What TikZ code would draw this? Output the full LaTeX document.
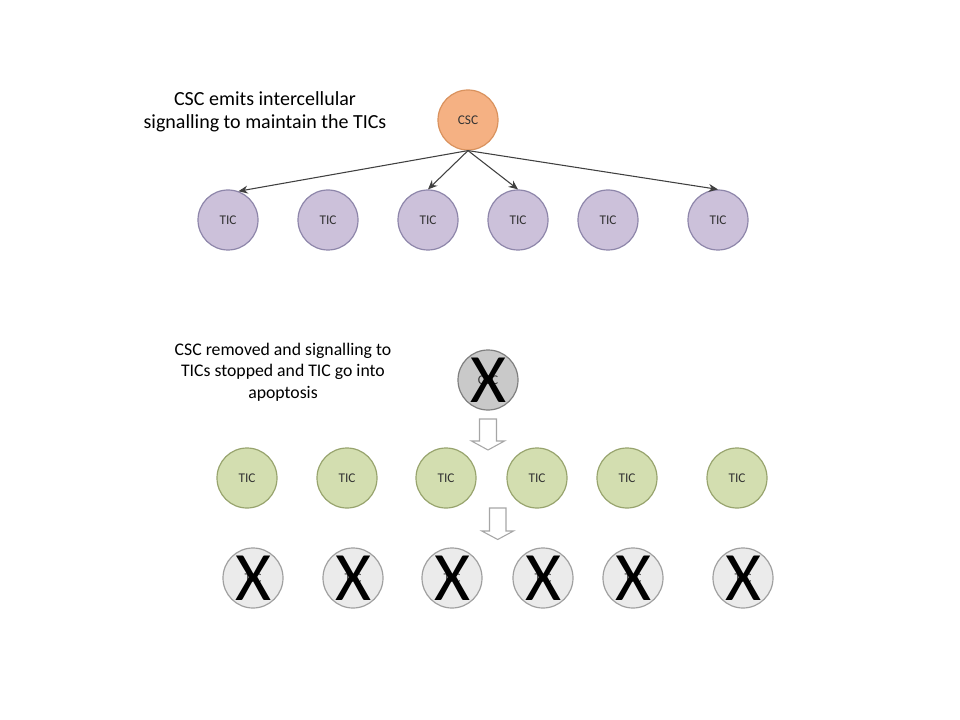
\documentclass[tikz,border=0pt]{standalone}
\usepackage{fontspec}
\setmainfont{Carlito}
\usetikzlibrary{arrows.meta}
\definecolor{orfill}{HTML}{F5B183}
\definecolor{ordraw}{HTML}{D9925E}
\definecolor{pufill}{HTML}{CCC1DA}
\definecolor{pudraw}{HTML}{8E86AA}
\definecolor{grfill}{HTML}{D3DEB0}
\definecolor{grdraw}{HTML}{98A46E}
\definecolor{gyfill}{HTML}{C9C9C9}
\definecolor{gydraw}{HTML}{7F7F7F}
\definecolor{ltfill}{HTML}{EBEBEB}
\definecolor{ltdraw}{HTML}{A0A0A0}
\definecolor{arr}{HTML}{404040}
\definecolor{blk}{HTML}{A6A6A6}
\begin{document}
\begin{tikzpicture}[x=0.75pt,y=-0.75pt,
  cell/.style={circle,minimum size=45pt,inner sep=0pt,line width=0.9pt,font=\fontsize{10}{12}\selectfont,text=black!80},
  csc/.style={cell,fill=orfill,draw=ordraw},
  tic/.style={cell,fill=pufill,draw=pudraw},
  gtic/.style={cell,fill=grfill,draw=grdraw},
  dcsc/.style={cell,fill=gyfill,draw=gydraw},
  dtic/.style={cell,fill=ltfill,draw=ltdraw},
  bigx/.style={inner sep=0pt,font=\fontsize{52}{52}\selectfont},
  sig/.style={draw=arr,line width=0.8pt,-{Stealth[length=7pt,width=6pt]}},
  blockarr/.style={draw=blk,fill=white,line width=0.8pt,line join=miter},
  title/.style={align=center,font=\fontsize{15}{17}\selectfont},
  title2/.style={align=center,font=\fontsize{13.3}{16}\selectfont}]
\useasboundingbox (0,0) rectangle (960,720);
% top
\node[title] (t1) at (265,112) {CSC emits intercellular\\signalling to maintain the TICs};
\node[csc] (c) at (468,120) {CSC};
\foreach \x [count=\i] in {228,328,428,518,608,718}
  \node[tic] (p\i) at (\x,220) {TIC};
\draw[sig] (c.south) -- (p1.70);
\draw[sig] (c.south) -- (p3.north);
\draw[sig] (c.south) -- (p4.north);
\draw[sig] (c.south) -- (p6.north);
% bottom
\node[title2] (t2) at (283,372) {CSC removed and signalling to\\TICs stopped and TIC go into\\apoptosis};
\node[dcsc] (dc) at (488,380) {CSC};
\node[bigx] (dcx) at (dc.center) {X};
\foreach \x [count=\i] in {247,347,446,537,627,737}
  \node[gtic] (g\i) at (\x,478) {TIC};
\foreach \x [count=\i] in {253,353,452,543,633,743}{
  \node[dtic] (d\i) at (\x,578) {TIC};
  \node[bigx] (dx\i) at (d\i.center) {X};
}
% block arrows
\draw[blockarr] (479.5,419) -- (496.5,419) -- (496.5,441) -- (504.5,441) -- (488,450) -- (471.5,441) -- (479.5,441) -- cycle;
\draw[blockarr] (489.5,508) -- (506,508) -- (506,531) -- (513.5,531) -- (497.7,539.5) -- (481.8,531) -- (489.5,531) -- cycle;
\end{tikzpicture}
\end{document}
